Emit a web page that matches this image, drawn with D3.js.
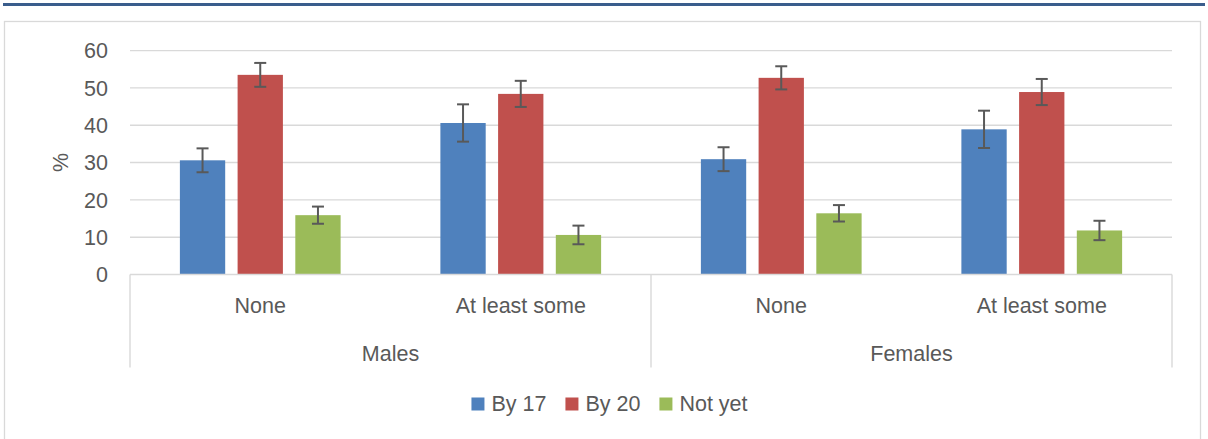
<!DOCTYPE html>
<html>
<head>
<meta charset="utf-8">
<script src="https://cdn.jsdelivr.net/npm/d3@7"></script>
<style>
  body { margin: 0; background: #fff; }
  text { font-family: "Liberation Sans", Arial, sans-serif; fill: #595959; }
</style>
</head>
<body>
<div id="chart"></div>
<script>
// categories
var groups = ["Males", "Females"];
var levels = ["None", "At least some"];
var series = ["By 17", "By 20", "Not yet"];
var yTicks = [0, 10, 20, 30, 40, 50, 60];

// values per series, order: Males-None, Males-At least some, Females-None, Females-At least some
var by17 = [30.6, 40.6, 30.9, 38.9];
var by20 = [53.5, 48.4, 52.7, 48.9];
var notYet = [15.9, 10.6, 16.4, 11.8];

// error bar half widths
var err17 = [3.2, 5.0, 3.2, 5.0];
var err20 = [3.2, 3.5, 3.1, 3.5];
var errNotYet = [2.3, 2.5, 2.2, 2.6];

var color = d3.scaleOrdinal().domain(series).range(["#4f81bd", "#c0504d", "#9bbb59"]);

var W = 1208, H = 439;
var plotL = 130, plotR = 1172, plotT = 50.6, plotB = 274.5;
var fs = "21.5px";

var svg = d3.select("#chart").append("svg")
    .attr("width", W)
    .attr("height", H)

// top rule + chart border
svg.append("rect").attr("x", 3).attr("y", 3).attr("width", 1202).attr("height", 3).style("fill", "#3a5d8c")
svg.append("rect").attr("x", 4.5).attr("y", 21.5).attr("width", 1196).attr("height", 440)
    .style("fill", "none").style("stroke", "#d9d9d9").style("stroke-width", 1.3)

var cats = [];
groups.forEach(function(g) { levels.forEach(function(l) { cats.push(g + "|" + l) }) });

var x0 = d3.scaleBand().domain(cats).range([plotL, plotR]);
var xg = d3.scaleBand().domain(groups).range([plotL, plotR]);
var y = d3.scaleLinear().domain([0, 60]).range([plotB, plotT]);

var groupW = x0.bandwidth() * 0.617;
var x1 = d3.scaleBand().domain(series).range([0, groupW]).paddingInner(0.215);

// gridlines
svg.selectAll("grid")
    .data(yTicks.filter(function(d) { return d > 0 }))
    .enter()
    .append("line")
    .attr("x1", plotL).attr("x2", plotR)
    .attr("y1", function(d) { return y(d) }).attr("y2", function(d) { return y(d) })
    .style("stroke", "#d9d9d9").style("stroke-width", 1.4)

// y labels
svg.selectAll("ylab")
    .data(yTicks)
    .enter()
    .append("text")
    .attr("x", 108)
    .attr("y", function(d) { return y(d) })
    .attr("dy", "0.36em")
    .attr("text-anchor", "end")
    .style("font-size", fs)
    .text(function(d) { return d })

svg.append("text")
    .attr("transform", "translate(68," + ((plotT + plotB) / 2) + ") rotate(-90)")
    .attr("text-anchor", "middle")
    .style("font-size", fs)
    .text("%")

// bars
var allVals = [by17, by20, notYet];
var allErr = [err17, err20, errNotYet];
var rows = [];
series.forEach(function(s, si) {
    cats.forEach(function(c, ci) {
        rows.push({ s: s, c: c, v: allVals[si][ci], e: allErr[si][ci] });
    });
});

function barX(d) { return x0(d.c) + (x0.bandwidth() - groupW) / 2 + x1(d.s) }

svg.selectAll("bars")
    .data(rows)
    .enter()
    .append("rect")
    .attr("x", barX)
    .attr("y", function(d) { return y(d.v) })
    .attr("width", x1.bandwidth())
    .attr("height", function(d) { return y(0) - y(d.v) })
    .style("fill", function(d) { return color(d.s) })

// error bars
var eb = svg.selectAll("errs").data(rows).enter().append("g")
    .style("stroke", "#595959").style("stroke-width", 2)
eb.append("line")
    .attr("x1", function(d) { return barX(d) + x1.bandwidth() / 2 })
    .attr("x2", function(d) { return barX(d) + x1.bandwidth() / 2 })
    .attr("y1", function(d) { return y(d.v - d.e) })
    .attr("y2", function(d) { return y(d.v + d.e) })
eb.selectAll("cap")
    .data(function(d) { return [d.v - d.e, d.v + d.e].map(function(v) { return { d: d, v: v } }) })
    .enter()
    .append("line")
    .attr("x1", function(p) { return barX(p.d) + x1.bandwidth() / 2 - 6 })
    .attr("x2", function(p) { return barX(p.d) + x1.bandwidth() / 2 + 6 })
    .attr("y1", function(p) { return y(p.v) })
    .attr("y2", function(p) { return y(p.v) })

// category axis
var axisBottom = 367.5;
svg.append("line").attr("x1", plotL).attr("x2", plotR).attr("y1", plotB).attr("y2", plotB)
    .style("stroke", "#d9d9d9").style("stroke-width", 1.4)
svg.selectAll("gsep")
    .data(groups.concat(["end"]))
    .enter()
    .append("line")
    .attr("x1", function(d) { return d == "end" ? plotR : xg(d) })
    .attr("x2", function(d) { return d == "end" ? plotR : xg(d) })
    .attr("y1", plotB).attr("y2", axisBottom)
    .style("stroke", "#d9d9d9").style("stroke-width", 1.4)

svg.selectAll("clab")
    .data(cats)
    .enter()
    .append("text")
    .attr("x", function(d) { return x0(d) + x0.bandwidth() / 2 })
    .attr("y", 312.5)
    .attr("text-anchor", "middle")
    .style("font-size", fs)
    .text(function(d) { return d.split("|")[1] })

svg.selectAll("glab")
    .data(groups)
    .enter()
    .append("text")
    .attr("x", function(d) { return xg(d) + xg.bandwidth() / 2 })
    .attr("y", 361)
    .attr("text-anchor", "middle")
    .style("font-size", fs)
    .text(function(d) { return d })

// legend
var legend = svg.append("g")
var items = legend.selectAll("item").data(series).enter().append("g")
items.append("rect").attr("x", 0).attr("y", 397.5).attr("width", 13).attr("height", 13)
    .style("fill", function(d) { return color(d) })
items.append("text").attr("x", 20).attr("y", 410.5)
    .style("font-size", fs)
    .text(function(d) { return d })
var gap = 19, pos = 0;
items.each(function(d) {
    var w = d3.select(this).select("text").node().getComputedTextLength();
    d3.select(this).attr("transform", "translate(" + pos + ",0)");
    pos += 20 + w + gap;
});
var legW = pos - gap;
legend.attr("transform", "translate(" + (609.5 - legW / 2) + ",0)")
</script>
</body>
</html>
